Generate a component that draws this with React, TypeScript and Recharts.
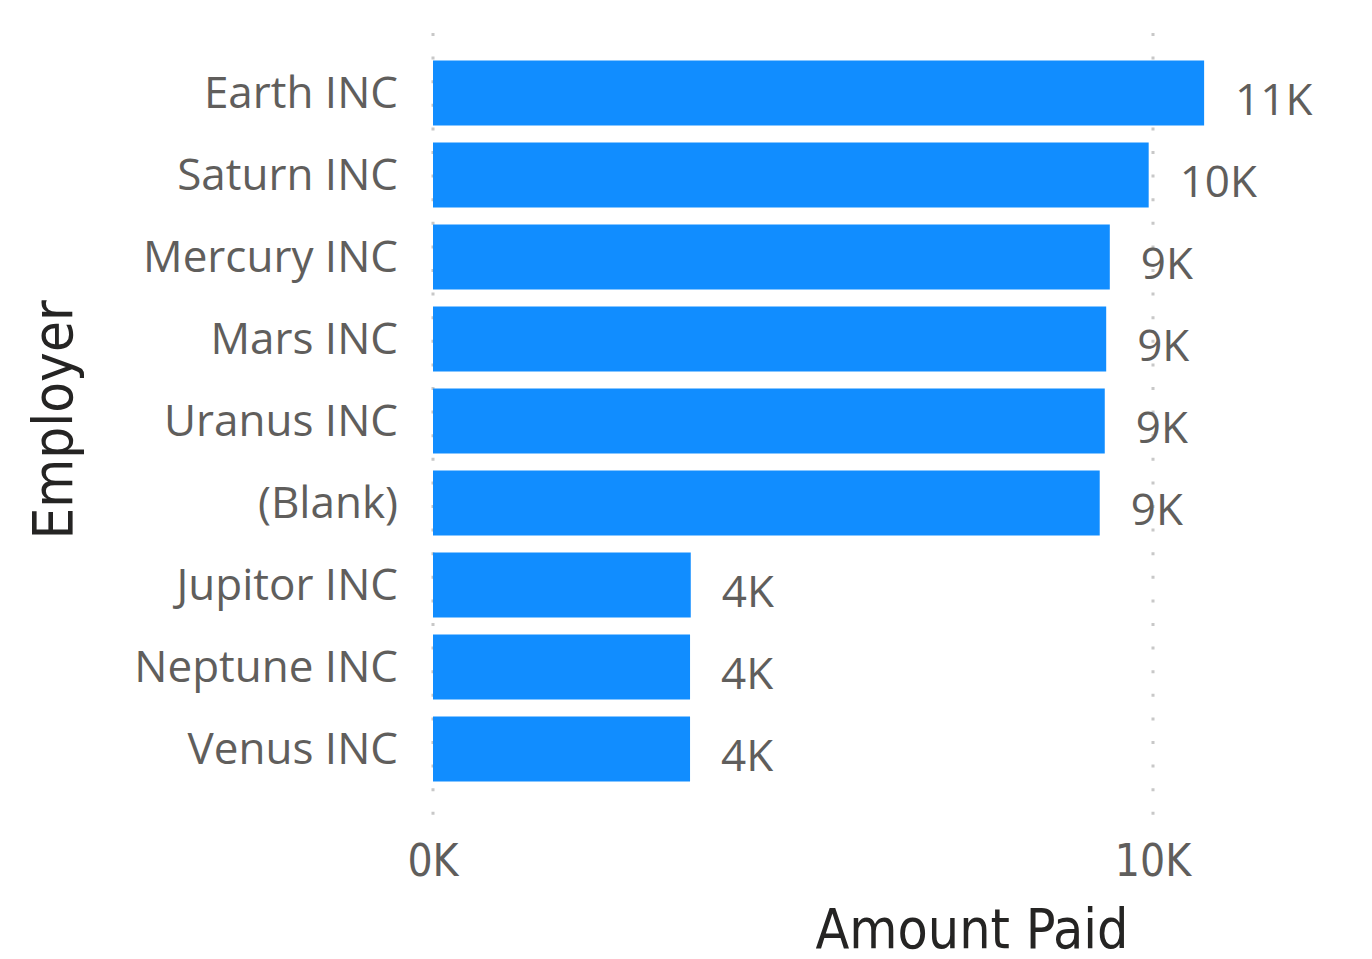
import { Bar, BarChart, CartesianGrid, LabelList, XAxis, YAxis } from "recharts";

const employers = [
  "Earth INC",
  "Saturn INC",
  "Mercury INC",
  "Mars INC",
  "Uranus INC",
  "(Blank)",
  "Jupitor INC",
  "Neptune INC",
  "Venus INC",
];

const amountPaid = [10710, 9940, 9400, 9350, 9330, 9260, 3580, 3570, 3570];

const xTicks = [0, 10000];
const xMax = 11000;

const data = employers.map((name, i) => ({ name, amount: amountPaid[i] }));

const LABEL_FONT = "'Segoe UI', 'Open Sans', sans-serif";
const AXIS_FONT = "'DIN', 'DejaVu Sans Condensed', 'DejaVu Sans', sans-serif";
const GREY = "#605E5C";
const DARK = "#252423";

const fmtK = (v: number) => `${Math.round(v / 1000)}K`;

// grid only at the shown ticks, from the axis scale
function gridX(args: any) {
  const scale = args?.xAxis?.scale;
  if (typeof scale === "function") return xTicks.map((t) => scale(t));
  const off = args.offset;
  return xTicks.map((t) => off.left + (t / xMax) * off.width);
}

function ValueLabel(props: any) {
  const { x, y, width, height, value } = props;
  return (
    <text
      x={Number(x) + Number(width) + 31}
      y={Number(y) + Number(height) / 2 + 22}
      fill={GREY}
      fontSize={44}
      fontFamily={LABEL_FONT}
    >
      {fmtK(Number(value))}
    </text>
  );
}

function YTitle(props: any) {
  const vb = props.viewBox || { x: 0, y: 0, height: 0 };
  const x = vb.x + 72;
  const y = vb.y + vb.height / 2 - 4;
  return (
    <text
      x={x}
      y={y}
      transform={`rotate(-90, ${x}, ${y})`}
      textAnchor="middle"
      fill={DARK}
      fontSize={56}
      fontFamily={AXIS_FONT}
    >
      Employer
    </text>
  );
}

function XTitle() {
  return (
    <text x={972} y={948} textAnchor="middle" fill={DARK} fontSize={55} fontFamily={AXIS_FONT}>
      Amount Paid
    </text>
  );
}

export default function App() {
  return (
    <div style={{ position: "absolute", left: 0, top: 0, background: "#fff" }}>
      <BarChart
        width={1372}
        height={959}
        data={data}
        layout="vertical"
        margin={{ top: 33, right: 147, bottom: 84, left: 0 }}
      >
        <CartesianGrid
          horizontal={false}
          verticalCoordinatesGenerator={gridX}
          stroke="#C8C8C8"
          strokeWidth={3}
          strokeDasharray="3 20.6"
        />
        <XAxis
          type="number"
          domain={[0, xMax]}
          ticks={xTicks}
          tickFormatter={fmtK}
          height={60}
          axisLine={false}
          tickLine={false}
          tickSize={0}
          tickMargin={30}
          tick={{ fill: GREY, fontSize: 44, fontFamily: AXIS_FONT }}
          label={{ content: XTitle }}
        />
        <YAxis
          type="category"
          dataKey="name"
          width={433}
          axisLine={false}
          tickLine={false}
          tickSize={0}
          tickMargin={35}
          padding={{ top: 18.5, bottom: 25.5 }}
          tick={{ fill: GREY, fontSize: 44, fontFamily: LABEL_FONT }}
          label={{ content: YTitle }}
        />
        <Bar dataKey="amount" fill="#118DFF" barSize={65} isAnimationActive={false}>
          <LabelList dataKey="amount" content={ValueLabel} />
        </Bar>
      </BarChart>
    </div>
  );
}
